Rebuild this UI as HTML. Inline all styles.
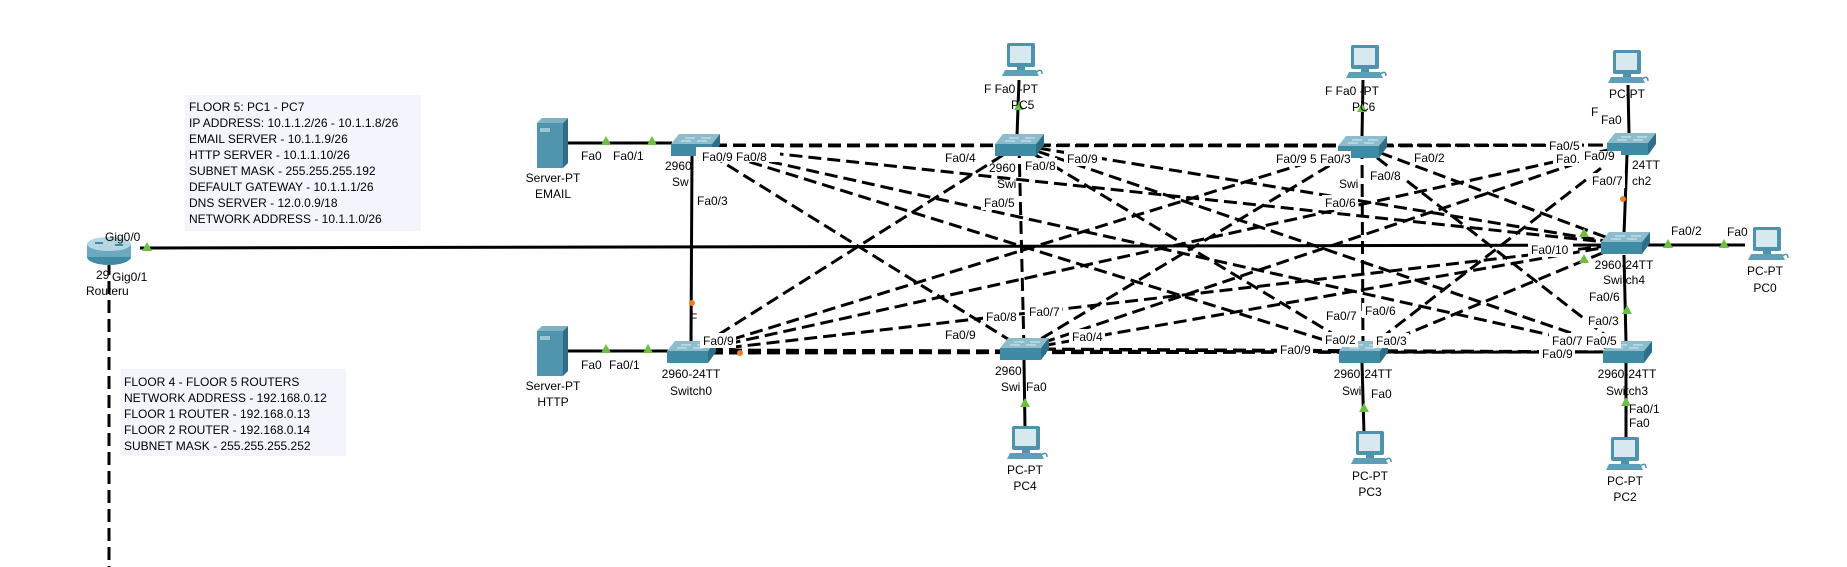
<!DOCTYPE html>
<html><head><meta charset="utf-8"><style>
html,body{margin:0;padding:0;background:#fff;}
svg{display:block;}
text{font-family:"Liberation Sans",sans-serif;font-size:12px;fill:#000;}
.box text{font-size:12px;}
.lb{fill:#fff;}
</style></head><body>
<svg width="1847" height="567" viewBox="0 0 1847 567" xmlns="http://www.w3.org/2000/svg">
<defs>
<g id="sw">
  <polygon points="-16,-11 25,-11 17,-1 -24,-1" fill="#8dbccd"/>
  <polygon points="-24,-1 17,-1 17,11 -24,11" fill="#3f8ba6"/>
  <polygon points="17,-1 25,-11 25,0 17,11" fill="#2b6f89"/>
  <path d="M-10,-7 h10 M6,-7 h10 M-14,-4 h10 M2,-4 h10" stroke="#d9ecf2" stroke-width="1"/>
</g>
<g id="pc">
  <rect x="-15" y="-17" width="28" height="24" rx="2" fill="#4d93ad"/>
  <rect x="-12" y="-14" width="21" height="17" fill="#d7e8ee"/>
  <rect x="-5" y="7" width="8" height="3" fill="#4d93ad"/>
  <polygon points="-17,10 14,10 17,16 -20,16" fill="#5d9fb7"/>
  <path d="M14,12 q6,-4 6,2" stroke="#4d93ad" fill="none" stroke-width="1.5"/>
</g>
<g id="srv">
  <polygon points="0,5 5,0 31,0 26,5" fill="#7fb2c4"/>
  <rect x="0" y="5" width="26" height="45" fill="#4f95ad"/>
  <polygon points="26,5 31,0 31,45 26,50" fill="#2e6f87"/>
  <rect x="3" y="10" width="10" height="4" fill="#9cc7d6"/>
</g>
<polygon id="tri" points="0,-5 5,4 -5,4" fill="#6cbf3f"/>
</defs>

<!-- text boxes -->
<rect x="185" y="95" width="236" height="136" fill="#f4f5fc"/>
<g class="box">
<text x="189" y="111">FLOOR 5: PC1 - PC7</text>
<text x="189" y="127">IP ADDRESS: 10.1.1.2/26 - 10.1.1.8/26</text>
<text x="189" y="143">EMAIL SERVER - 10.1.1.9/26</text>
<text x="189" y="159">HTTP SERVER - 10.1.1.10/26</text>
<text x="189" y="175">SUBNET MASK - 255.255.255.192</text>
<text x="189" y="191">DEFAULT GATEWAY - 10.1.1.1/26</text>
<text x="189" y="207">DNS SERVER - 12.0.0.9/18</text>
<text x="189" y="223">NETWORK ADDRESS - 10.1.1.0/26</text>
</g>
<rect x="121" y="369" width="225" height="87" fill="#f4f5fc"/>
<g class="box">
<text x="124" y="386">FLOOR 4 - FLOOR 5 ROUTERS</text>
<text x="124" y="402">NETWORK ADDRESS - 192.168.0.12</text>
<text x="124" y="418">FLOOR 1 ROUTER - 192.168.0.13</text>
<text x="124" y="434">FLOOR 2 ROUTER - 192.168.0.14</text>
<text x="124" y="450">SUBNET MASK - 255.255.255.252</text>
</g>

<!-- mesh dashed lines -->
<g stroke="#000" stroke-width="3" stroke-dasharray="13,6" fill="none">
<line x1="695" y1="145" x2="1019" y2="145"/><line x1="695" y1="145" x2="1362" y2="146"/><line x1="695" y1="146" x2="1631" y2="145"/>
<line x1="695" y1="145" x2="1024" y2="349"/><line x1="695" y1="145" x2="1363" y2="352"/><line x1="695" y1="145" x2="1627" y2="352"/><line x1="695" y1="145" x2="1624" y2="244"/>
<line x1="1019" y1="145" x2="1362" y2="146"/><line x1="1019" y1="145" x2="1631" y2="145"/><line x1="1019" y1="145" x2="1624" y2="244"/>
<line x1="1019" y1="145" x2="691" y2="352"/><line x1="1019" y1="145" x2="1024" y2="349"/><line x1="1019" y1="145" x2="1363" y2="352"/><line x1="1019" y1="145" x2="1627" y2="352"/>
<line x1="1362" y1="146" x2="1631" y2="145"/><line x1="1362" y1="146" x2="1624" y2="244"/><line x1="1362" y1="146" x2="691" y2="352"/><line x1="1362" y1="146" x2="1024" y2="349"/><line x1="1362" y1="146" x2="1363" y2="352"/><line x1="1362" y1="146" x2="1627" y2="352"/>
<line x1="1631" y1="145" x2="691" y2="352"/><line x1="1631" y1="145" x2="1024" y2="349"/><line x1="1631" y1="145" x2="1363" y2="352"/>
<line x1="691" y1="352" x2="1024" y2="351"/><line x1="691" y1="350" x2="1363" y2="352"/><line x1="691" y1="353" x2="1627" y2="352"/><line x1="691" y1="352" x2="1624" y2="244"/>
<line x1="1024" y1="349" x2="1363" y2="352"/><line x1="1024" y1="349" x2="1627" y2="352"/><line x1="1024" y1="349" x2="1624" y2="244"/>
<line x1="1363" y1="352" x2="1627" y2="352"/><line x1="1363" y1="352" x2="1624" y2="244"/>
<line x1="109" y1="262" x2="109" y2="567"/>
</g>
<!-- solid lines -->
<g stroke="#000" stroke-width="3" fill="none">
<line x1="140" y1="248" x2="1620" y2="245"/>
<line x1="568" y1="143" x2="672" y2="143"/>
<line x1="568" y1="351" x2="668" y2="351"/>
<line x1="692" y1="155" x2="691" y2="342"/>
<line x1="1019" y1="80" x2="1017" y2="136"/>
<line x1="1363" y1="80" x2="1362" y2="137"/>
<line x1="1628" y1="85" x2="1629" y2="134"/>
<line x1="1627" y1="155" x2="1624" y2="234"/>
<line x1="1624" y1="255" x2="1626" y2="342"/>
<line x1="1648" y1="245" x2="1745" y2="245"/>
<line x1="1024" y1="360" x2="1025" y2="428"/>
<line x1="1362" y1="363" x2="1364" y2="433"/>
<line x1="1626" y1="363" x2="1626" y2="437"/>
</g>

<!-- devices -->
<use href="#sw" x="695" y="145"/><use href="#sw" x="1019" y="145"/><use href="#sw" x="1362" y="147"/><use href="#sw" x="1631" y="144"/>
<use href="#sw" x="1625" y="243"/><use href="#sw" x="691" y="352"/><use href="#sw" x="1024" y="349"/><use href="#sw" x="1363" y="352"/><use href="#sw" x="1627" y="352"/>
<use href="#pc" x="1022" y="60"/><use href="#pc" x="1366" y="62"/><use href="#pc" x="1628" y="67"/><use href="#pc" x="1768" y="244"/>
<use href="#pc" x="1027" y="443"/><use href="#pc" x="1371" y="448"/><use href="#pc" x="1626" y="454"/>
<use href="#srv" x="537" y="118"/><use href="#srv" x="537" y="326"/>
<!-- router -->
<ellipse cx="109" cy="257" rx="22" ry="8" fill="#3f8ba6"/>
<rect x="87" y="244" width="44" height="13" fill="#6aa9bf"/>
<ellipse cx="109" cy="244" rx="22" ry="7" fill="#b6d7e2"/>
<path d="M95,243 h8 M115,245 h8" stroke="#3f8ba6" stroke-width="2"/>

<!-- arrows -->
<use href="#tri" x="147" y="247"/><use href="#tri" x="606" y="141"/><use href="#tri" x="652" y="141"/>
<use href="#tri" x="606" y="349"/><use href="#tri" x="648" y="349"/><use href="#tri" x="1668" y="244"/><use href="#tri" x="1724" y="244"/>
<use href="#tri" x="1019" y="106"/><use href="#tri" x="1362" y="108"/><use href="#tri" x="1626" y="402"/><use href="#tri" x="1025" y="403"/><use href="#tri" x="1364" y="408"/>
<use href="#tri" x="1584" y="233"/><use href="#tri" x="1584" y="259"/><use href="#tri" x="1627" y="310"/>
<circle cx="692" cy="303" r="3" fill="#f47b20"/><circle cx="1623" cy="199" r="3" fill="#f47b20"/><circle cx="740" cy="353" r="3" fill="#f47b20"/>

<!-- labels -->
<g>
<text x="105" y="241">Gig0/0</text><text x="112" y="281">Gig0/1</text><text x="96" y="279">29</text><text x="86" y="295">Routeru</text>
<text x="581" y="160">Fa0</text><text x="613" y="160">Fa0/1</text><text x="581" y="369">Fa0</text><text x="609" y="369">Fa0/1</text>
<text x="553" y="182" text-anchor="middle">Server-PT</text><text x="553" y="198" text-anchor="middle">EMAIL</text>
<text x="553" y="390" text-anchor="middle">Server-PT</text><text x="553" y="406" text-anchor="middle">HTTP</text>
<text x="665" y="170">2960</text><text x="672" y="186">Sw</text>
<rect class="lb" x="696" y="147" width="84" height="15"/><text x="702" y="161">Fa0/9  Fa0/8</text>
<text x="697" y="205">Fa0/3</text><text x="690" y="322">F</text>
<rect class="lb" x="700" y="333" width="36" height="15"/><text x="703" y="345">Fa0/9</text>
<text x="691" y="378" text-anchor="middle">2960-24TT</text><text x="691" y="395" text-anchor="middle">Switch0</text>
<text x="984" y="93">F Fa0 -PT</text><text x="1011" y="109">PC5</text>
<rect class="lb" x="943" y="150" width="35" height="15"/><text x="945" y="162">Fa0/4</text>
<text x="989" y="172">2960</text><rect class="lb" x="1022" y="158" width="35" height="15"/><text x="1025" y="170">Fa0/8</text>
<rect class="lb" x="1064" y="151" width="38" height="15"/><text x="1067" y="163">Fa0/9</text>
<text x="997" y="188">Swi</text><rect class="lb" x="981" y="195" width="35" height="15"/><text x="984" y="207">Fa0/5</text>
<text x="1325" y="95">F Fa0 -PT</text><text x="1352" y="111">PC6</text>
<rect class="lb" x="1273" y="151" width="78" height="15"/><text x="1276" y="163">Fa0/9 5 Fa0/3</text>
<rect class="lb" x="1411" y="150" width="36" height="15"/><text x="1414" y="162">Fa0/2</text>
<rect class="lb" x="1367" y="168" width="36" height="15"/><text x="1370" y="180">Fa0/8</text><text x="1339" y="188">Swi</text>
<rect class="lb" x="1322" y="195" width="36" height="15"/><text x="1325" y="207">Fa0/6</text>
<text x="1609" y="98">PC-PT</text><text x="1591" y="116">F</text><text x="1601" y="124">Fa0</text>
<rect class="lb" x="1546" y="138" width="36" height="15"/><text x="1549" y="150">Fa0/5</text>
<rect class="lb" x="1553" y="151" width="68" height="15"/><text x="1556" y="163">Fa0.</text><text x="1584" y="160">Fa0/9</text>
<text x="1632" y="169">24TT</text><rect class="lb" x="1589" y="173" width="36" height="15"/><text x="1592" y="185">Fa0/7</text><text x="1632" y="185">ch2</text>
<text x="1671" y="235">Fa0/2</text><text x="1727" y="236">Fa0</text>
<rect class="lb" x="1528" y="242" width="45" height="15"/><text x="1531" y="254">Fa0/10</text>
<text x="1624" y="269" text-anchor="middle">2960-24TT</text><text x="1624" y="284" text-anchor="middle">Switch4</text>
<text x="1765" y="275" text-anchor="middle">PC-PT</text><text x="1765" y="292" text-anchor="middle">PC0</text>
<rect class="lb" x="1586" y="289" width="36" height="15"/><text x="1589" y="301">Fa0/6</text>
<rect class="lb" x="1585" y="313" width="36" height="15"/><text x="1588" y="325">Fa0/3</text>
<rect class="lb" x="1549" y="333" width="72" height="15"/><text x="1552" y="345">Fa0/7 Fa0/5</text>
<rect class="lb" x="1539" y="346" width="36" height="15"/><text x="1542" y="358">Fa0/9</text>
<text x="1627" y="378" text-anchor="middle">2960-24TT</text><text x="1627" y="395" text-anchor="middle">Switch3</text>
<text x="1629" y="413">Fa0/1</text><text x="1629" y="427">Fa0</text>
<text x="1625" y="485" text-anchor="middle">PC-PT</text><text x="1625" y="501" text-anchor="middle">PC2</text>
<rect class="lb" x="983" y="309" width="36" height="15"/><text x="986" y="321">Fa0/8</text>
<rect class="lb" x="1026" y="304" width="36" height="15"/><text x="1029" y="316">Fa0/7</text>
<rect class="lb" x="942" y="327" width="36" height="15"/><text x="945" y="339">Fa0/9</text>
<rect class="lb" x="1069" y="329" width="36" height="15"/><text x="1072" y="341">Fa0/4</text>
<text x="995" y="375">2960</text><text x="1001" y="391">Swi</text><text x="1026" y="391">Fa0</text>
<text x="1025" y="474" text-anchor="middle">PC-PT</text><text x="1025" y="490" text-anchor="middle">PC4</text>
<rect class="lb" x="1323" y="308" width="36" height="15"/><text x="1326" y="320">Fa0/7</text>
<rect class="lb" x="1362" y="303" width="36" height="15"/><text x="1365" y="315">Fa0/6</text>
<rect class="lb" x="1322" y="332" width="36" height="15"/><text x="1325" y="344">Fa0/2</text>
<rect class="lb" x="1373" y="333" width="36" height="15"/><text x="1376" y="345">Fa0/3</text>
<rect class="lb" x="1277" y="342" width="36" height="15"/><text x="1280" y="354">Fa0/9</text>
<text x="1363" y="378" text-anchor="middle">2960-24TT</text><text x="1342" y="395">Swi</text><text x="1371" y="398">Fa0</text>
<text x="1370" y="480" text-anchor="middle">PC-PT</text><text x="1370" y="496" text-anchor="middle">PC3</text>
</g>
</svg>
</body></html>
